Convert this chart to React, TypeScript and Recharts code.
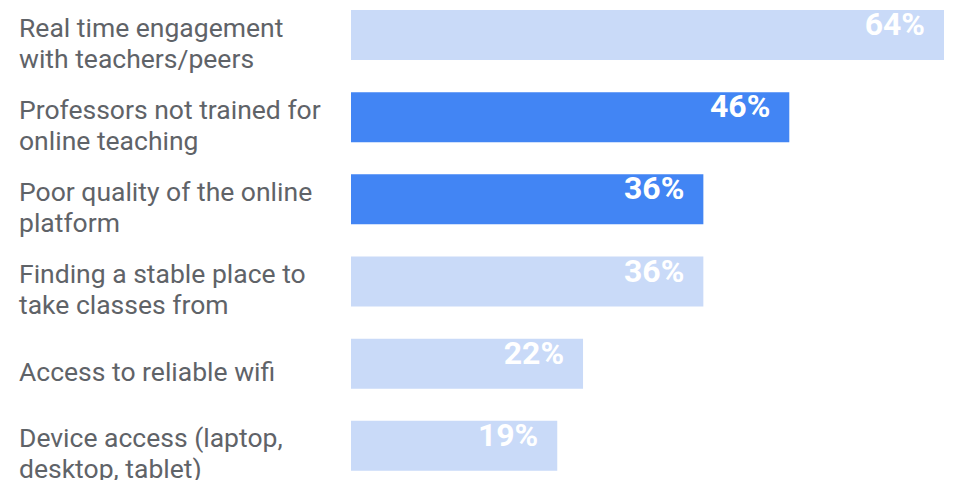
import React from 'react';
import { BarChart, Bar, XAxis, YAxis, Cell, LabelList } from 'recharts';

const categories = [
  'Real time engagement\nwith teachers/peers',
  'Professors not trained for\nonline teaching',
  'Poor quality of the online\nplatform',
  'Finding a stable place to\ntake classes from',
  'Access to reliable wifi',
  'Device access (laptop,\ndesktop, tablet)',
];
const shares = [64, 46, 36, 36, 22, 19];
const highlighted = [false, true, true, false, false, false];

// the bars in the source start a little before zero
const AXIS_START = -5;

const data = categories.map((name, i) => ({
  name,
  value: shares[i],
  highlight: highlighted[i],
}));

const CategoryTick = (props: any) => {
  const { y, payload } = props;
  const lines: string[] = String(payload.value).split('\n');
  const lineHeight = 31;
  const first = y + 8 - ((lines.length - 1) * lineHeight) / 2 + 9;
  return (
    <text
      x={19}
      y={first}
      textAnchor="start"
      fill="#5f6368"
      fontSize={26.5}
      fontFamily="Roboto"
    >
      {lines.map((line, i) => (
        <tspan key={i} x={19} y={first + i * lineHeight}>
          {line}
        </tspan>
      ))}
    </text>
  );
};

const ValueLabel = (props: any) => {
  const { x, y, width, value } = props;
  return (
    <text
      x={x + width - 19}
      y={y + 25}
      textAnchor="end"
      fill="#ffffff"
      fontSize={32}
      fontWeight="bold"
      fontFamily="Roboto"
    >
      {value}%
    </text>
  );
};

export default function App() {
  return (
    <div style={{ position: 'absolute', left: 0, top: 0, background: '#fff' }}>
      <BarChart
        width={962}
        height={480}
        data={data}
        layout="vertical"
        margin={{ top: -6, right: 18, bottom: -7, left: 0 }}
      >
        <XAxis type="number" domain={[AXIS_START, 64]} hide />
        <YAxis
          type="category"
          dataKey="name"
          width={351}
          axisLine={false}
          tickLine={false}
          tick={<CategoryTick />}
          interval={0}
        />
        <Bar
          dataKey={(d: any) => [AXIS_START, d.value]}
          barSize={50}
          isAnimationActive={false}
        >
          {data.map((d, i) => (
            <Cell key={i} fill={d.highlight ? '#4285f4' : '#c9daf8'} />
          ))}
          <LabelList dataKey="value" content={<ValueLabel />} />
        </Bar>
      </BarChart>
    </div>
  );
}
